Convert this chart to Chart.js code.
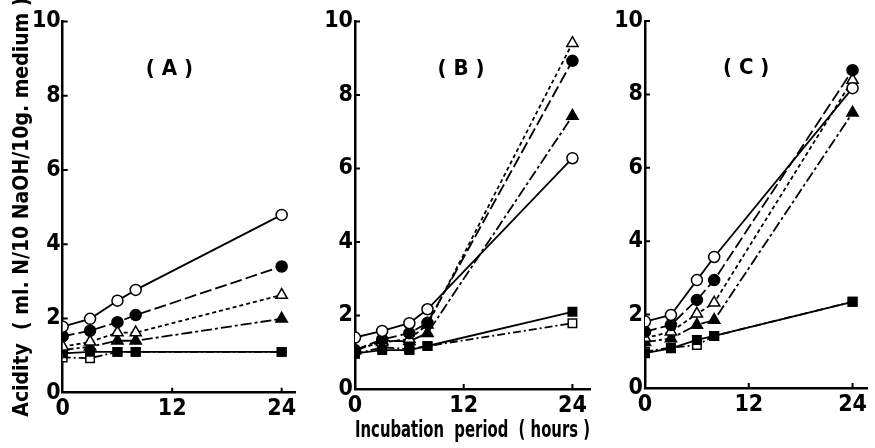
<!DOCTYPE html>
<html>
<head>
<meta charset="utf-8">
<script src="https://cdn.jsdelivr.net/npm/chart.js@4.4.1/dist/chart.umd.min.js"></script>
<style>
html,body{margin:0;padding:0;background:#fff}
#wrap{position:relative;width:875px;height:448px}
#wrap canvas{position:absolute;left:0;top:0}
</style>
</head>
<body>
<div id="wrap">
<canvas id="panelA" width="875" height="448"></canvas>
<canvas id="panelB" width="875" height="448"></canvas>
<canvas id="panelC" width="875" height="448"></canvas>
</div>
<script>
// incubation times (hours)
const hours = [0, 3, 6, 8, 24]
const xTicks = [0, 12, 24]
const yTicks = [0, 2, 4, 6, 8, 10]

// panel (A)
const aOpenCircle   = [1.78, 1.99, 2.48, 2.77, 4.79]
const aFilledCircle = [1.52, 1.67, 1.90, 2.09, 3.40]
const aOpenTri      = [1.24, 1.37, 1.62, 1.62, 2.63]
const aFilledTri    = [1.15, 1.24, 1.40, 1.40, 1.99]
const aFilledSq     = [1.06, 1.10, 1.10, 1.10, 1.10]
const aOpenSq       = [0.95, 0.93, 1.10, 1.10, 1.10]

// panel (B)
const bOpenCircle   = [1.40, 1.58, 1.79, 2.17, 6.28]
const bFilledCircle = [1.06, 1.35, 1.52, 1.80, 8.93]
const bOpenTri      = [1.08, 1.27, 1.36, 1.75, 9.41]
const bFilledTri    = [1.04, 1.31, 1.30, 1.52, 7.43]
const bFilledSq     = [0.97, 1.06, 1.06, 1.17, 2.10]
const bOpenSq       = [0.96, 1.13, 1.09, 1.17, 1.79]

// panel (C)
const cOpenCircle   = [1.81, 1.99, 2.94, 3.57, 8.17]
const cFilledCircle = [1.53, 1.72, 2.40, 2.94, 8.66]
const cOpenTri      = [1.36, 1.53, 2.02, 2.32, 8.39]
const cFilledTri    = [1.25, 1.35, 1.72, 1.85, 7.50]
const cFilledSq     = [0.95, 1.08, 1.31, 1.42, 2.35]
const cOpenSq       = [0.99, 1.10, 1.17, 1.42, 2.35]

const FONT = '"Liberation Sans Narrow", "DejaVu Sans Condensed", "Liberation Sans", sans-serif'

// one entry per curve: marker + line style
let markStyles = [
{pointStyle:"circle",   fill:"#fff", dash:[],          r:5.5},
{pointStyle:"circle",   fill:"#000", dash:[12,4],      r:5.5},
{pointStyle:"triangle", fill:"#fff", dash:[4,3],       r:6.5},
{pointStyle:"triangle", fill:"#000", dash:[11,3,3,3],  r:6.5},
{pointStyle:"rect",     fill:"#000", dash:[],          r:6},
{pointStyle:"rect",     fill:"#fff", dash:[8,3,2,3],   r:6}
]

// small ticks drawn on the inside of the axes + panel letter
const innerTicks = {
id:"innerTicks",
afterDraw(chart){
let ctx = chart.ctx
let xs = chart.scales.x, ys = chart.scales.y
let area = chart.chartArea
ctx.save()
ctx.strokeStyle = "#000"
ctx.lineWidth = 2
ctx.beginPath()
yTicks.slice(1).forEach(v => {
let py = ys.getPixelForValue(v)
ctx.moveTo(area.left, py)
ctx.lineTo(area.left + 5, py)
})
xTicks.slice(1).forEach(v => {
let px = xs.getPixelForValue(v)
ctx.moveTo(px, area.bottom)
ctx.lineTo(px, area.bottom - 5)
})
ctx.stroke()

let lbl = chart.options.plugins.innerTicks.label
ctx.fillStyle = "#000"
ctx.font = "bold 22px " + FONT
ctx.textAlign = "center"
ctx.textBaseline = "middle"
ctx.fillText(lbl, xs.getPixelForValue(11.7), ys.getPixelForValue(8.7))
ctx.restore()
}
}

function makePanel(canvasId, label, series, lay){

let datasets = series.map((vals, i) => {
let s = markStyles[i]
return {
data: hours.map((h, j) => ({x:h, y:vals[j]})),
borderColor:"#000",
borderWidth:1.8,
borderDash:s.dash,
pointStyle:s.pointStyle,
pointRadius:s.r,
pointBackgroundColor:s.fill,
pointBorderColor:"#000",
pointBorderWidth:1.5,
fill:false,
tension:0
}
})

new Chart(document.getElementById(canvasId),{
type:"line",
data:{datasets:datasets},
plugins:[innerTicks],
options:{
responsive:false,
animation:false,
layout:{padding:{left:lay.left, right:lay.right, top:lay.top, bottom:0}},
plugins:{
legend:{display:false},
tooltip:{enabled:false},
innerTicks:{label:label}
},
scales:{
x:{
type:"linear",
min:0,
max:lay.xMax,
afterFit: sc => { sc.height = 448 - lay.bottom },
afterBuildTicks: sc => { sc.ticks = xTicks.map(v => ({value:v})) },
grid:{display:false, drawTicks:false},
border:{display:true, color:"#000", width:2.5},
ticks:{color:"#000", padding:3, font:{family:FONT, size:23, weight:"bold"}, maxRotation:0},
title:{
display:!!lay.xTitle,
text:lay.xTitle || "",
color:"#000",
padding:{top:0, bottom:3},
font:{family:FONT, size:23, weight:"bold"}
}
},
y:{
min:0,
max:10,
afterFit: sc => { sc.width = lay.yWidth },
afterBuildTicks: sc => { sc.ticks = yTicks.map(v => ({value:v})) },
grid:{display:false, drawTicks:false},
border:{display:true, color:"#000", width:2.5},
ticks:{color:"#000", padding:2, font:{family:FONT, size:23, weight:"bold"}},
title:{
display:!!lay.yTitle,
text:lay.yTitle || "",
color:"#000",
padding:{top:10, bottom:0},
font:{family:FONT, size:21, weight:"bold"}
}
}
}
}
})
}

makePanel("panelA", "( A )",
[aOpenCircle, aFilledCircle, aOpenTri, aFilledTri, aFilledSq, aOpenSq],
{left:0, right:579, top:21.5, bottom:392.7, yWidth:62.7, xMax:25.57,
 yTitle:"Acidity  ( ml. N/10 NaOH/10g. medium )"})

makePanel("panelB", "( B )",
[bOpenCircle, bFilledCircle, bOpenTri, bFilledTri, bFilledSq, bOpenSq],
{left:290, right:285, top:21.5, bottom:389, yWidth:65, xMax:25.94,
 xTitle:"Incubation  period  ( hours )"})

makePanel("panelC", "( C )",
[cOpenCircle, cFilledCircle, cOpenTri, cFilledTri, cFilledSq, cOpenSq],
{left:580, right:0, top:21, bottom:388, yWidth:65, xMax:25.67})
</script>
</body>
</html>
